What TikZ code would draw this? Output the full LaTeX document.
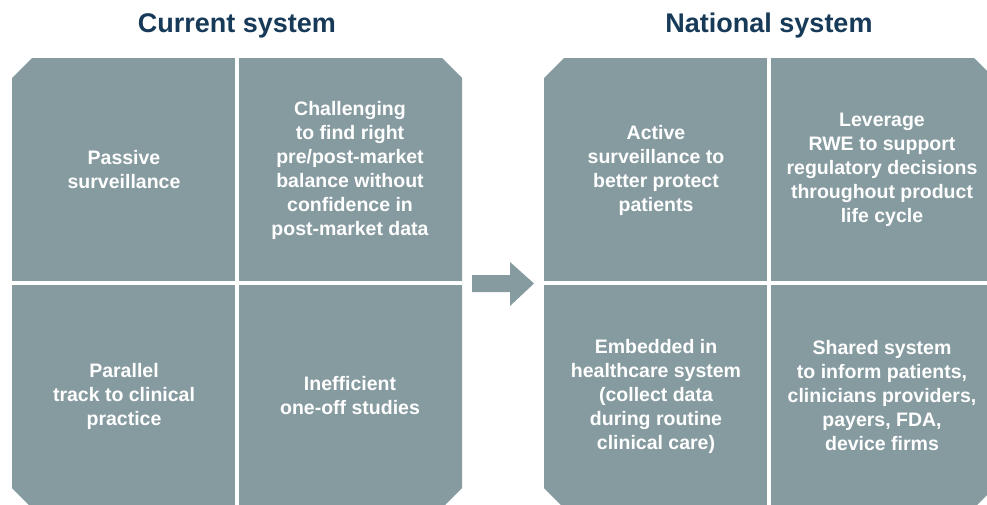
\documentclass[tikz,border=0pt]{standalone}
\usepackage{fontspec}
\setmainfont{Liberation Sans}
\usetikzlibrary{positioning}
\definecolor{panel}{RGB}{134,155,160}
\definecolor{navy}{RGB}{22,58,88}

\begin{document}
\begin{tikzpicture}[x=1pt, y=-1pt,
	head/.style={text=navy, font=\fontsize{27}{32}\selectfont\bfseries},
	cell/.style={text=white, align=center, font=\fontsize{19.5}{24}\selectfont\bfseries},
	gap/.style={white, line width=4pt}]
	\useasboundingbox (0,0) rectangle (987,504);
	\clip (0,0) rectangle (987,504);
	% panels
	\fill[panel] (32,58) -- (442,58) -- (462,78) -- (462,488) -- (442,508) -- (32,508) -- (12,488) -- (12,78) -- cycle;
	\fill[panel] (564,58) -- (974,58) -- (994,78) -- (994,488) -- (974,508) -- (564,508) -- (544,488) -- (544,78) -- cycle;
	\draw[gap] (237,58) -- (237,508) (12,283) -- (462,283);
	\draw[gap] (769,58) -- (769,508) (544,283) -- (994,283);
	% arrow
	\fill[panel] (472,275) -- (510,275) -- (510,262) -- (534,283.5) -- (510,306) -- (510,292) -- (472,292) -- cycle;
	\node[head] (cur) at (237,26) {Current system};
	\node[head] (nat) at (769,26) {National system};
	\node[cell] (passive) at (124,170) {Passive\\surveillance};
	\node[cell] (balance) at (350,170) {Challenging\\to find right\\pre/post-market\\balance without\\confidence in\\post-market data};
	\node[cell] (parallel) at (124,396) {Parallel\\track to clinical\\practice};
	\node[cell] (oneoff) at (350,396) {Inefficient\\one-off studies};
	\node[cell] (active) at (656,170) {Active\\surveillance to\\better protect\\patients};
	\node[cell] (rwe) at (882,170) {Leverage\\RWE to support\\regulatory decisions\\throughout product\\life cycle};
	\node[cell] (embed) at (656,396) {Embedded in\\healthcare system\\(collect data\\during routine\\clinical care)};
	\node[cell] (shared) at (882,396) {Shared system\\to inform patients,\\clinicians providers,\\payers, FDA,\\device firms};
\end{tikzpicture}
\end{document}
